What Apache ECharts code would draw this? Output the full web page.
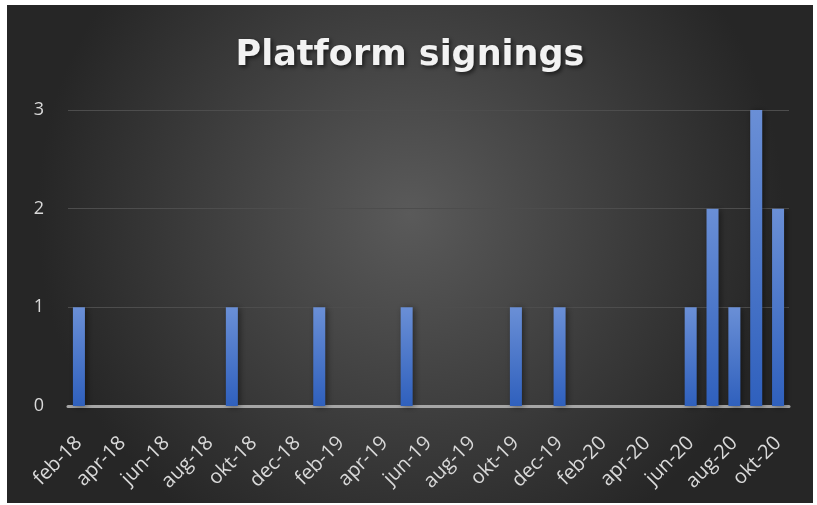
<!DOCTYPE html>
<html>
<head>
<meta charset="utf-8">
<script src="https://cdn.jsdelivr.net/npm/echarts@6/dist/echarts.min.js"></script>
<style>
html,body{margin:0;padding:0;background:#fff;width:817px;height:505px;overflow:hidden;}
#c{position:absolute;left:7px;top:5px;width:806px;height:498px;}
</style>
</head>
<body>
<div id="c"></div>
<script>
const categories = ["feb-18","mrt-18","apr-18","mei-18","jun-18","jul-18","aug-18","sep-18","okt-18","nov-18","dec-18","jan-19",
"feb-19","mrt-19","apr-19","mei-19","jun-19","jul-19","aug-19","sep-19","okt-19","nov-19","dec-19","jan-20",
"feb-20","mrt-20","apr-20","mei-20","jun-20","jul-20","aug-20","sep-20","okt-20"];
const signings = [1,0,0,0,0,0,0,1,0,0,0,1,
0,0,0,1,0,0,0,0,1,0,1,0,
0,0,0,0,1,2,1,3,2];
const yTicks = [0,1,2,3];

const chart = echarts.init(document.getElementById('c'));
chart.setOption({
  animation:false,
  backgroundColor: new echarts.graphic.RadialGradient(0.5, 0.42, 0.75, [
    {offset:0, color:'#5a5a5a'},
    {offset:1, color:'#262626'}
  ]),
  title:{
    text:'Platform signings',
    left:'center',
    top:28,
    textStyle:{
      fontFamily:'DejaVu Sans', fontWeight:'bold', fontSize:35, color:'#f2f2f2',
      textShadowColor:'rgba(0,0,0,0.6)', textShadowBlur:4, textShadowOffsetX:2, textShadowOffsetY:2
    }
  },
  grid:{left:61, right:24, top:105, bottom:97},
  xAxis:{
    type:'category',
    data:categories,
    axisTick:{show:false},
    axisLine:{show:true, lineStyle:{color:'#a6a6a6', width:3}},
    axisLabel:{
      interval:1, rotate:45, margin:34,
      color:'#d9d9d9', fontSize:20, fontFamily:'Open Sans'
    }
  },
  yAxis:{
    type:'value',
    min:0, max:3, interval:1,
    axisLine:{show:false}, axisTick:{show:false},
    splitLine:{lineStyle:{color:'#4d4d4d', width:1}},
    axisLabel:{
      margin:24, color:'#d9d9d9', fontSize:18, fontFamily:'Open Sans',
      formatter:v=> yTicks.includes(v) ? String(v) : ''
    }
  },
  series:[{
    type:'bar',
    data:signings,
    barWidth:'55%',
    itemStyle:{
      color:new echarts.graphic.LinearGradient(0,0,0,1,[
        {offset:0,color:'#6a8fd6'},
        {offset:1,color:'#2f60bd'}
      ]),
      shadowColor:'rgba(0,0,0,0.45)', shadowBlur:6, shadowOffsetX:2, shadowOffsetY:1
    }
  }]
});
</script>
</body>
</html>
